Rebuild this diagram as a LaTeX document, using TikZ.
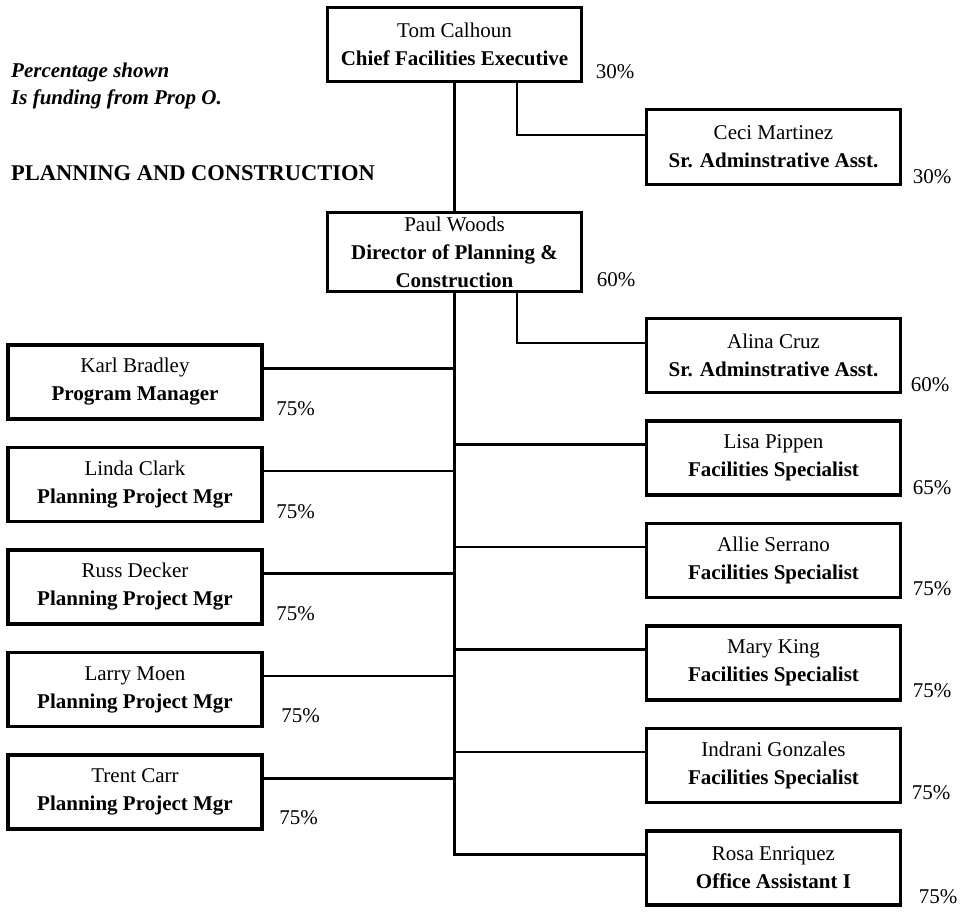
\documentclass[tikz,border=0pt]{standalone}
\usepackage{fontspec}
\setmainfont{Liberation Serif}
\usetikzlibrary{positioning}

\begin{document}
\begin{tikzpicture}[
  x=1pt, y=-1pt,
  node distance=25.3pt,
  person/.style={draw, line width=3.2pt, minimum width=254pt, minimum height=74pt,
                 inner sep=0pt, align=center, font=\fontsize{21}{28}\selectfont},
  pct/.style ={inner sep=0pt, font=\fontsize{21}{25}\selectfont},
  note/.style={inner sep=0pt, align=left, anchor=west},
  link/.style={line width=2.4pt}
]
\useasboundingbox (0,0) rectangle (963,911);

% notes
\node[note, font=\fontsize{21}{27}\selectfont\bfseries\itshape] (legend) at (11,86)
  {Percentage shown\\Is funding from Prop O.};
\node[note, font=\fontsize{22.5}{27}\selectfont\bfseries] (dept) at (11,173)
  {PLANNING AND CONSTRUCTION};

% top of the chart
\node[person] (tom) at (454.5,44.5) {Tom Calhoun\\\textbf{Chief Facilities Executive}};
\node[person, minimum height=75pt] (ceci) at (773.5,147) {Ceci Martinez\\\textbf{Sr. Adminstrative Asst.}};
\node[person, minimum height=79pt] (paul) at (454.5,252)
  {Paul Woods\\\textbf{Director of Planning \&}\\\textbf{Construction}};

% right column
\node[person] (alina) at (773.5,355.5) {Alina Cruz\\\textbf{Sr. Adminstrative Asst.}};
\node[person, below=of alina]   (lisa)    {Lisa Pippen\\\textbf{Facilities Specialist}};
\node[person, below=of lisa]    (allie)   {Allie Serrano\\\textbf{Facilities Specialist}};
\node[person, below=of allie]   (mary)    {Mary King\\\textbf{Facilities Specialist}};
\node[person, below=of mary]    (indrani) {Indrani Gonzales\\\textbf{Facilities Specialist}};
\node[person, below=of indrani] (rosa)    {Rosa Enriquez\\\textbf{Office Assistant I}};

% left column
\node[person] (karl) at (135,382) {Karl Bradley\\\textbf{Program Manager}};
\node[person, below=of karl]  (linda) {Linda Clark\\\textbf{Planning Project Mgr}};
\node[person, below=of linda] (russ)  {Russ Decker\\\textbf{Planning Project Mgr}};
\node[person, below=of russ]  (larry) {Larry Moen\\\textbf{Planning Project Mgr}};
\node[person, below=of larry] (trent) {Trent Carr\\\textbf{Planning Project Mgr}};

% funding shares
\node[pct] (tomp)     at ([xshift=32pt,yshift=11pt]tom.south east)     {30\%};
\node[pct] (cecip)    at ([xshift=30pt,yshift=9pt]ceci.south east)     {30\%};
\node[pct] (paulp)    at ([xshift=33pt,yshift=13pt]paul.south east)    {60\%};
\node[pct] (alinap)   at ([xshift=28pt,yshift=9pt]alina.south east)    {60\%};
\node[pct] (lisap)    at ([xshift=30pt,yshift=9pt]lisa.south east)     {65\%};
\node[pct] (alliep)   at ([xshift=30pt,yshift=10pt]allie.south east)   {75\%};
\node[pct] (maryp)    at ([xshift=30pt,yshift=11pt]mary.south east)    {75\%};
\node[pct] (indranip) at ([xshift=29pt,yshift=11pt]indrani.south east) {75\%};
\node[pct] (rosap)    at ([xshift=36pt,yshift=10pt]rosa.south east)    {75\%};
\node[pct] (karlp)    at ([xshift=32pt,yshift=12pt]karl.south east)    {75\%};
\node[pct] (lindap)   at ([xshift=32pt,yshift=11pt]linda.south east)   {75\%};
\node[pct] (russp)    at ([xshift=32pt,yshift=12pt]russ.south east)    {75\%};
\node[pct] (larryp)   at ([xshift=37pt,yshift=12pt]larry.south east)   {75\%};
\node[pct] (trentp)   at ([xshift=35pt,yshift=13pt]trent.south east)   {75\%};

% reporting lines
\draw[link] (tom) -- (paul);
\draw[link] ([xshift=62.5pt]tom.south) |- ([yshift=12pt]ceci.west);
\draw[link] ([xshift=62.5pt]paul.south) |- ([yshift=12.5pt]alina.west);
\foreach \p in {lisa,allie,mary,indrani,rosa}
  \draw[link] (paul.south) |- ([yshift=13.5pt]\p.west);
\foreach \p in {karl,linda,russ,larry,trent}
  \draw[link] ([yshift=13.5pt]\p.east) -| (paul.south);
\end{tikzpicture}
\end{document}
